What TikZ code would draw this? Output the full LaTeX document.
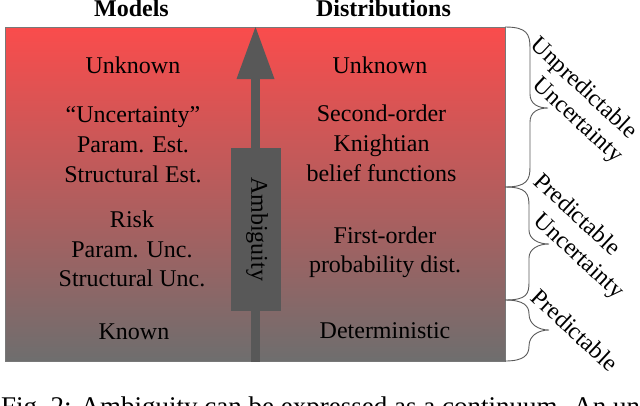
\documentclass[tikz,border=0pt]{standalone}
\usepackage{fontspec}
\setmainfont{Liberation Serif}
\definecolor{topred}{RGB}{250,76,76}
\definecolor{botgray}{RGB}{110,110,110}
\definecolor{arrowgray}{RGB}{88,88,88}
\definecolor{bracegray}{RGB}{90,90,90}
\definecolor{edgegray}{RGB}{120,120,120}
\tikzset{
  lbl/.style={inner sep=0pt, anchor=base, font=\fontsize{24}{29}\selectfont},
  hdr/.style={inner sep=0pt, anchor=base, font=\fontsize{24}{29}\selectfont\bfseries},
  blbl/.style={inner sep=0pt, anchor=center, rotate=-43, font=\fontsize{24}{29}\selectfont},
  bracestyle/.style={draw=bracegray, line width=0.9pt},
}
\begin{document}
\begin{tikzpicture}[x=1pt,y=-1pt]
\useasboundingbox (0,0) rectangle (640,405);
\clip (0,0) rectangle (640,405);
% main shaded rectangle
\shade[top color=topred, bottom color=botgray] (5,27) rectangle (505,361);
\draw[edgegray, line width=0.8pt] (5,27) rectangle (505,361);
\coordinate (rtop) at (505,27);
% arrow
\fill[arrowgray] (251.3,79) rectangle (259.7,362);
\fill[arrowgray] (236.5,79) -- (255.5,27) -- (274.5,79) -- cycle;
\node[fill=arrowgray, minimum width=50pt, minimum height=163pt, inner sep=0pt] (ambbox) at (256,229.5) {};
\node[inner sep=0pt, rotate=-90, font=\fontsize{24}{29}\selectfont] (amb) at (257,229) {Ambiguity};
% headers
\node[hdr] (hm) at (131.5,16) {Models};
\node[hdr] (hd) at (383.5,16) {Distributions};
% left column
\node[lbl] (l1) at (133,73) {Unknown};
\node[lbl] (l2) at (133,122) {``Uncertainty''};
\node[lbl] (l3) at (133,152) {Param. Est.};
\node[lbl] (l4) at (133,182) {Structural Est.};
\node[lbl] (l5) at (132,227) {Risk};
\node[lbl] (l6) at (132,257) {Param. Unc.};
\node[lbl] (l7) at (132,286) {Structural Unc.};
\node[lbl] (l8) at (134,339) {Known};
% right column
\node[lbl] (r1) at (380,73) {Unknown};
\node[lbl] (r2) at (381.5,121) {Second-order};
\node[lbl] (r3) at (381.5,151) {Knightian};
\node[lbl] (r4) at (381.5,181) {belief functions};
\node[lbl] (r5) at (385,243) {First-order};
\node[lbl] (r6) at (385,272) {probability dist.};
\node[lbl] (r7) at (385,338) {Deterministic};
% braces
\draw[bracestyle] (505,27) .. controls (527,27) and (530,34) .. (530,48)
  -- (530,94) .. controls (530,104) and (538,108) .. (548,108)
  .. controls (538,108) and (530,112) .. (530,122)
  -- (530,167) .. controls (530,180) and (527,187) .. (505,187);
\draw[bracestyle] (505,187) .. controls (527,187) and (529,194) .. (529,206)
  -- (529,230) .. controls (529,239) and (538,244) .. (549,244)
  .. controls (538,244) and (529,249) .. (529,258)
  -- (529,282) .. controls (529,294) and (527,300) .. (505,300);
\draw[bracestyle] (505,300) .. controls (524,300) and (529,306) .. (529,314)
  .. controls (529,324) and (538,330) .. (549,330)
  .. controls (538,330) and (529,336) .. (529,346)
  .. controls (529,355) and (524,361) .. (505,361);
% brace labels
\node[blbl] (b1) at (583,89) {Unpredictable};
\node[blbl] (b2) at (577,121) {Uncertainty};
\node[blbl] (b3) at (578,214) {Predictable};
\node[blbl] (b4) at (578,257) {Uncertainty};
\node[blbl] (b5) at (575,330) {Predictable};
% caption (cut off)
\node[inner sep=0pt, anchor=base west, font=\fontsize{27}{32}\selectfont] (cap) at (1,415) {Fig.~2: Ambiguity can be expressed as a continuum. An un};
\end{tikzpicture}
\end{document}
